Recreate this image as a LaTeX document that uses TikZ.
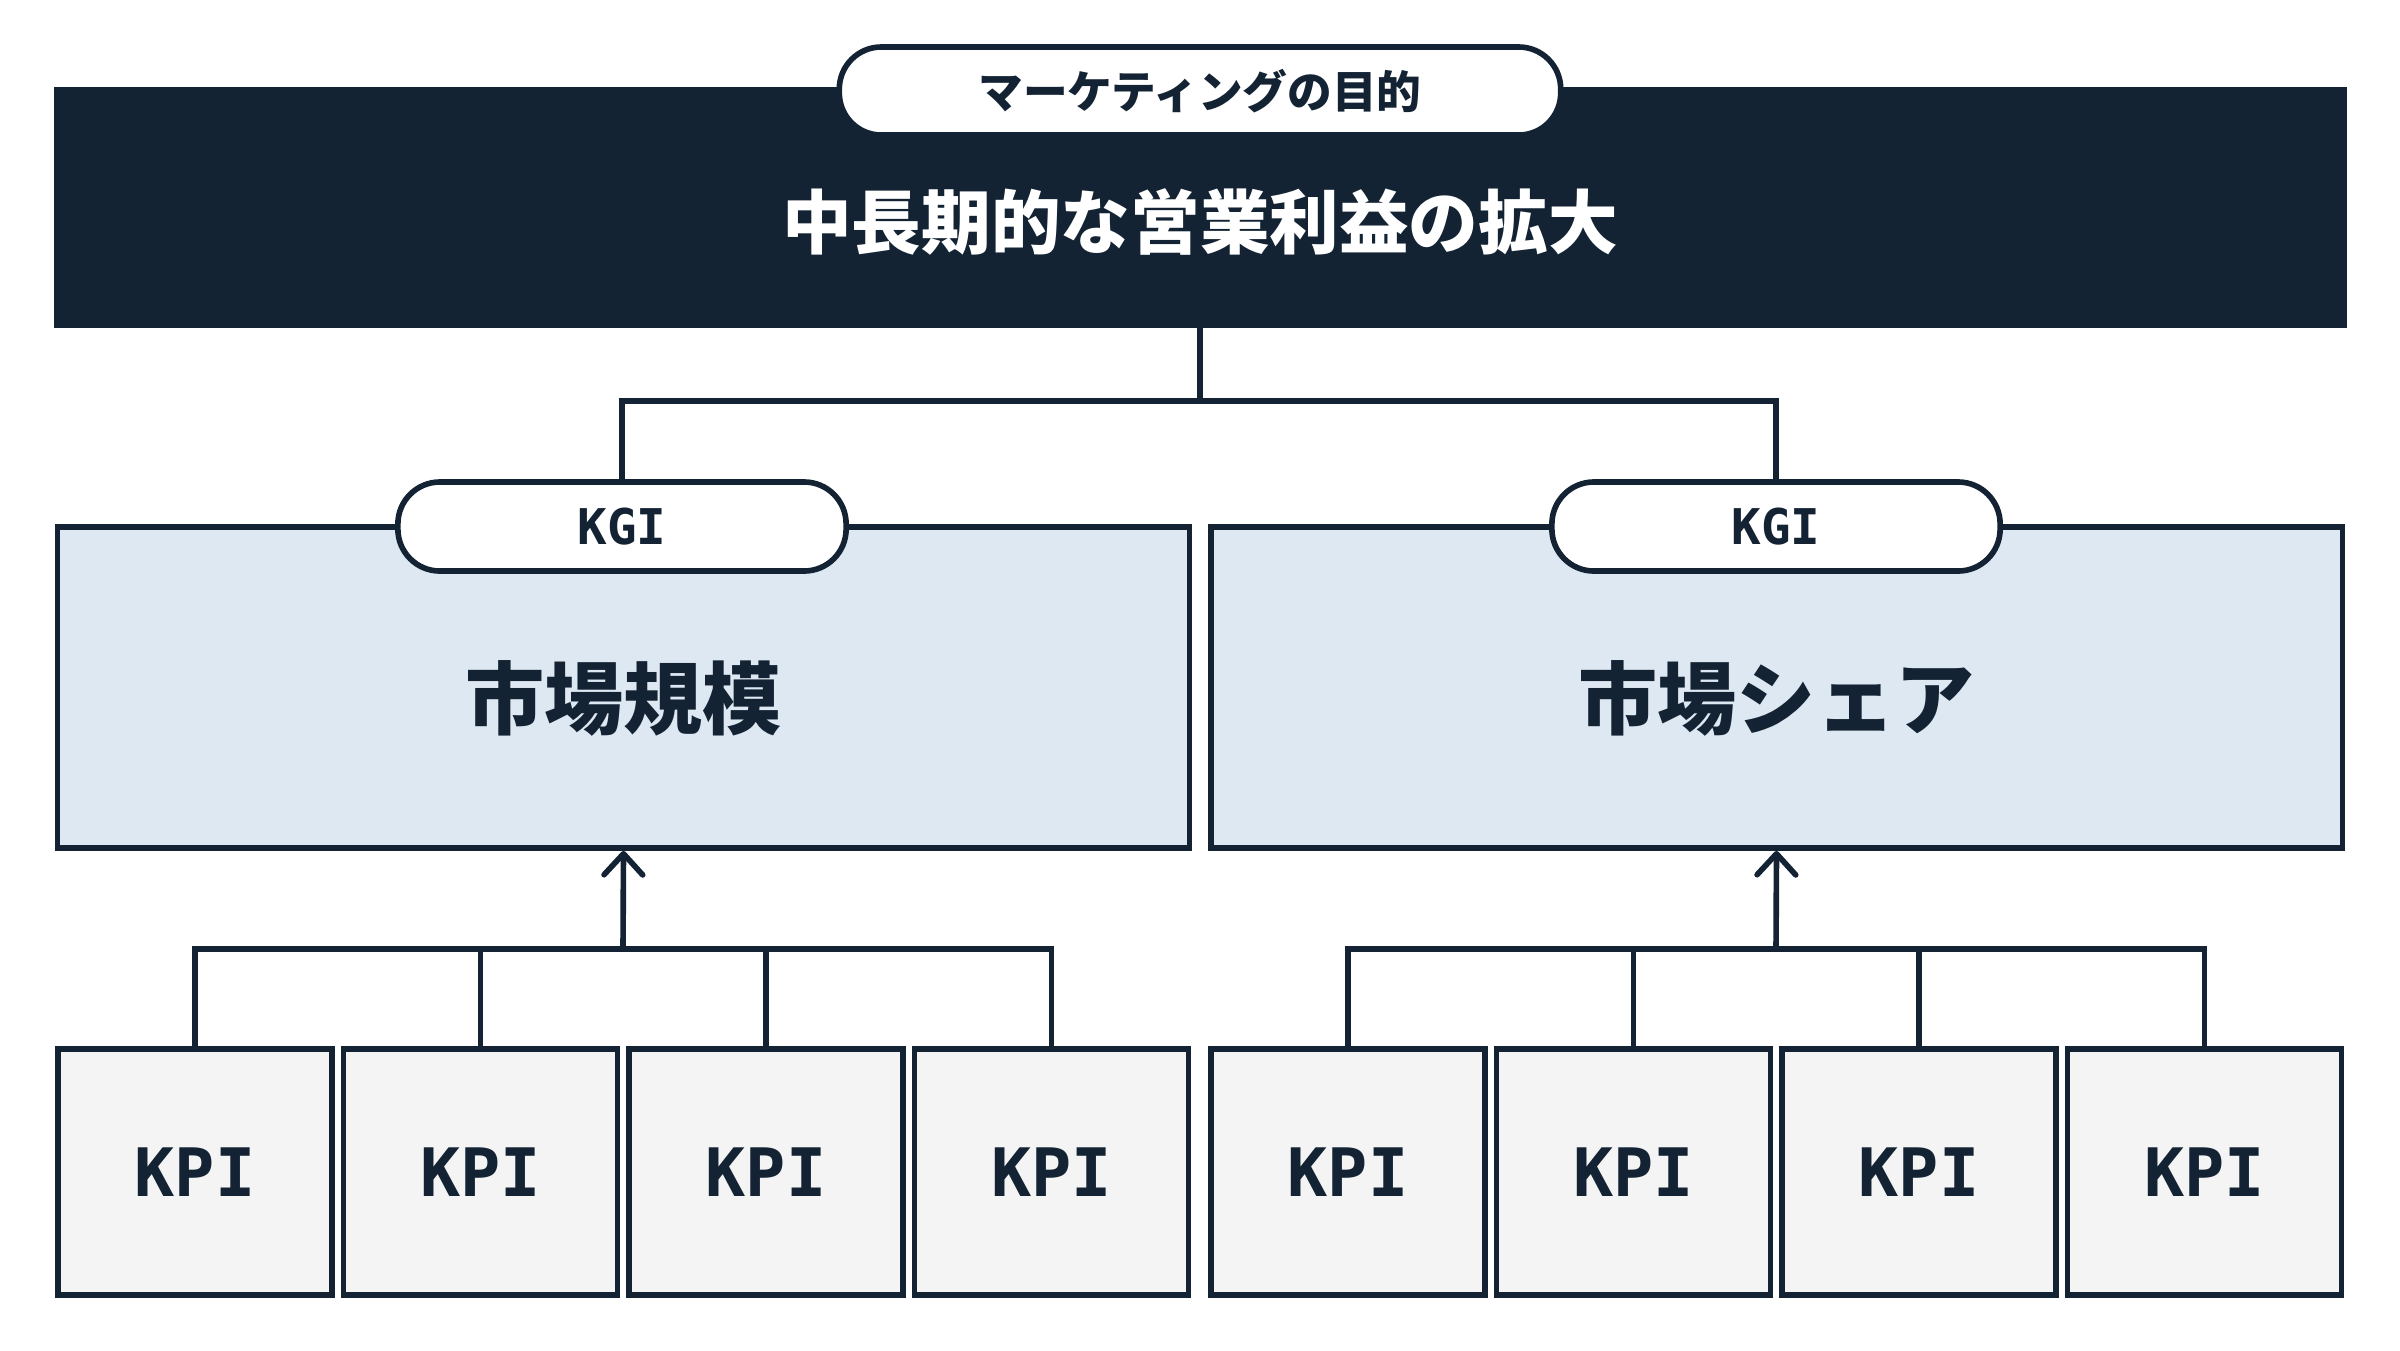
\documentclass[tikz,border=0pt]{standalone}
\usepackage{fontspec}
\setmainfont{Noto Sans CJK JP}[BoldFont={Noto Sans CJK JP Black}]
\newfontfamily\kpifont{DejaVu Sans Mono}[BoldFont={DejaVu Sans Mono Bold}]
\usetikzlibrary{arrows.meta}

\definecolor{navy}{HTML}{132333}
\definecolor{paleblue}{HTML}{DEE8F2}
\definecolor{palegray}{HTML}{F4F4F4}

\tikzstyle{goalbox}=[draw=navy,fill=navy,rectangle,minimum width=22.86cm,minimum height=2.35cm,inner sep=0pt]
\tikzstyle{pill}=[draw=navy,fill=white,rectangle,rounded corners=0.42cm,inner sep=0pt]
\tikzstyle{kgibox}=[draw=navy,fill=paleblue,rectangle,minimum width=11.31cm,minimum height=3.21cm,text height=0.92cm,text depth=0.1cm,font=\fontsize{22.5pt}{27pt}\selectfont\bfseries]
\tikzstyle{kpibox}=[draw=navy,fill=palegray,rectangle,minimum width=2.74cm,minimum height=2.46cm,font=\kpifont\fontsize{19pt}{23pt}\selectfont\bfseries]

\begin{document}
\begin{tikzpicture}[x=0.01cm,y=-0.01cm,line width=1.6pt,color=navy]
      \useasboundingbox (0,0) rectangle (2400,1350);

      % purpose
      \node [goalbox] (goal) at (1200,207.5) {};
      \node [text=white,font=\fontsize{19.8pt}{24pt}\selectfont\bfseries] (goaltext) at (1200,222) {中長期的な営業利益の拡大};
      \node [pill,minimum width=7.21cm,minimum height=0.88cm,font=\fontsize{12.7pt}{15pt}\selectfont\bfseries] (goalpill) at (1200,91) {マーケティングの目的};

      % KGI
      \node [kgibox] (size) at (623.5,687.5) {市場規模};
      \node [kgibox] (share) at (1776.5,687.5) {市場シェア};
      \node [pill,minimum width=4.48cm,minimum height=0.89cm,font=\kpifont\fontsize{14pt}{17pt}\selectfont\bfseries] (sizepill) at (622,526.5) {KGI};
      \node [pill,minimum width=4.48cm,minimum height=0.89cm,font=\kpifont\fontsize{14pt}{17pt}\selectfont\bfseries] (sharepill) at (1776,526.5) {KGI};

      \coordinate (split) at (1200,401);
      \draw (goal.south) -- (split);
      \draw (sizepill.north) |- (split) -| (sharepill.north);

      % KPI
      \foreach \i in {1,...,4} {
          \node [kpibox] (sizekpi\i) at ({195+285.5*(\i-1)},1172) {KPI};
          \node [kpibox] (sharekpi\i) at ({1348+285.5*(\i-1)},1172) {KPI};
        }

      \coordinate (sizebar) at (623,949);
      \coordinate (sharebar) at (1776,949);
      \draw [-{Straight Barb[round,length=6pt,width=11pt]}] (sizebar) -- (size.south);
      \draw [-{Straight Barb[round,length=6pt,width=11pt]}] (sharebar) -- (share.south);
      \draw (sizekpi1.north) |- (sizebar) -| (sizekpi4.north);
      \draw (sharekpi1.north) |- (sharebar) -| (sharekpi4.north);
      \foreach \i in {2,3} {
          \draw (sizekpi\i.north) -- (sizekpi\i.north |- sizebar);
          \draw (sharekpi\i.north) -- (sharekpi\i.north |- sharebar);
        }
    \end{tikzpicture}
\end{document}
